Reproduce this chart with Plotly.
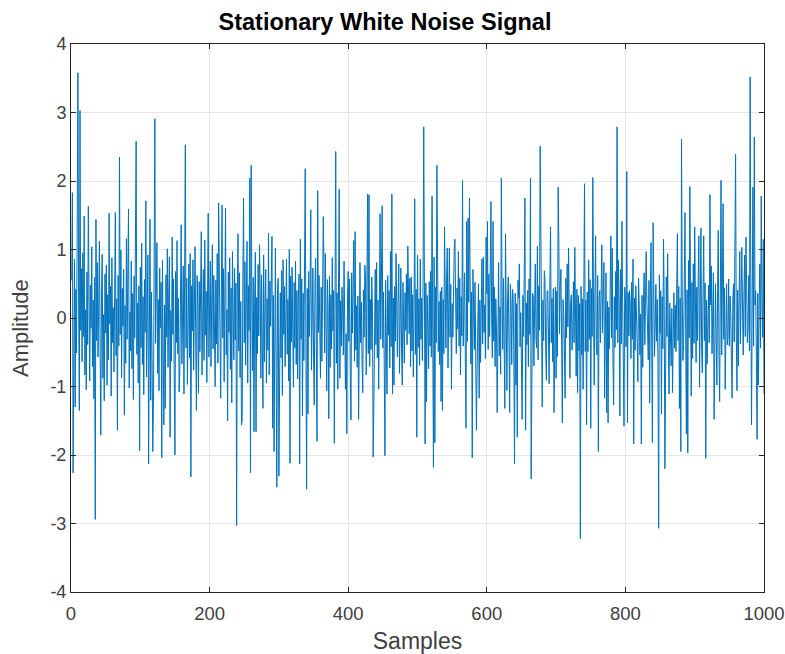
import plotly.graph_objects as go

# Signal amplitudes, samples 1..1000 (read/estimated from the reference)
block01 = [0.55, 1.83, -2.26, 0.21, 0.86, -1.30, 0.42, -0.51, 1.22, 3.58,
           0.31, -1.35, 3.03, -0.18, 0.72, -0.64, 0.95, -0.27, 1.49, -0.83,
           0.12, -1.05, 0.67, -0.39, 1.63, 0.08, -0.92, 0.48, -0.15, 1.04,
           -0.71, 0.26, -1.18, 0.59, -2.94, 1.44, -0.33, 0.81, -0.57, 0.19,
           1.12, -0.46, -1.71, 0.37, 0.93, -0.88, 0.05, -1.21, 0.64, -0.22,
           0.77, -0.98, 0.34, -0.61, 1.53, -0.09, 0.46, -1.14, 0.88, -0.36,
           0.15, -0.79, 1.07, 1.54, -0.55, 0.28, -1.64, 0.62, -0.41, 2.35,
           -0.24, 0.99, -0.87, 0.43, -0.12, 0.71, -1.42, 0.18, -0.66, 1.16,
           -0.31, 0.54, 1.59, -1.02, 0.09, -0.48, 0.83, -0.74, 0.36, -1.19,
           0.61, -0.29, 0.97, 2.58, -0.53, 0.22, -0.95, 0.47, -1.94, 0.74]
block02 = [-0.43, 1.09, -0.68, 0.31, -1.12, 0.56, -0.21, 1.71, -0.86, 0.14,
           0.92, -2.13, 1.36, 1.44, -1.20, 0.38, -0.59, -1.95, -1.22, 0.66,
           2.91, -0.37, 0.45, 1.10, -0.81, 0.27, -1.06, 0.73, -0.14, 0.52,
           -2.04, 0.84, -0.47, -1.56, 0.19, -1.32, 0.63, -0.28, 1.01, -0.72,
           0.35, 0.89, -1.74, 0.11, -0.63, 1.18, -0.24, 0.57, -0.91, -2.00,
           0.68, -0.36, 1.13, -0.52, 0.29, -1.08, -0.78, 0.41, 1.36, -0.67,
           0.24, 0.76, -1.11, 0.13, 2.53, -0.44, 0.58, -0.97, 0.32, 0.79,
           -0.58, 0.94, -2.32, 0.47, -0.19, 0.85, -0.76, 0.21, 1.04, -0.34,
           -1.35, 0.62, 0.17, -1.10, 0.53, -0.49, 0.96, 1.26, -0.83, 0.07,
           0.71, -0.62, 1.14, -0.25, 0.39, -0.94, 0.48, 1.53, -0.57, 0.26]
block03 = [0.83, -0.71, 0.18, 1.07, -0.45, 0.62, -0.13, -1.00, 0.55, -0.38,
           0.94, -0.66, 1.68, 0.23, -0.82, -1.17, 0.41, 1.65, -0.29, 0.72,
           -0.93, 0.36, 1.60, -0.54, 0.12, -1.50, 0.67, -0.21, 0.88, -0.75,
           0.44, -1.24, 0.97, 0.05, -0.61, 0.73, -0.32, 0.51, -3.03, 0.38,
           1.23, -0.48, 0.66, -0.87, 0.24, -1.56, -1.50, 0.57, 1.75, -0.36,
           0.82, -0.69, 0.31, 1.12, -0.95, 0.47, -0.18, 2.04, -2.26, 2.23,
           0.34, -0.77, 0.59, -1.66, 0.21, 0.96, -1.66, 0.30, -0.52, 0.78,
           -0.26, 1.07, 0.39, -0.88, 0.63, -0.41, -1.32, 0.92, -0.64, 0.16,
           0.71, -0.95, 0.28, -0.47, 1.24, -0.83, 0.54, -0.12, 0.87, 1.19,
           -1.61, 0.33, -1.95, 0.48, 1.02, -0.74, -2.47, 0.42, 0.58, -2.31]
block04 = [-0.86, 0.37, -0.58, 0.69, -1.13, 0.85, -0.24, 0.46, -0.71, 0.19,
           0.86, -0.53, 0.27, -0.92, 1.00, -2.12, 0.61, -0.35, 0.74, -0.17,
           -1.01, 0.52, -0.44, 0.83, -0.68, 0.40, -0.89, 0.25, 0.64, -2.13,
           1.15, -0.31, 0.57, -1.43, 0.36, -0.62, 0.91, 2.18, -0.47, -2.50,
           0.43, -1.40, 0.68, -0.27, 0.34, 1.58, -0.76, 0.19, 0.73, -0.58,
           -1.27, 0.49, 0.87, -0.39, -1.80, 1.86, -0.21, 0.62, 0.11, -0.88,
           0.45, -0.63, 0.28, 1.48, 0.79, -0.51, 0.94, -0.33, -1.06, 0.56,
           0.14, -1.47, 0.61, -0.72, 0.34, -0.45, 0.88, -0.19, 0.40, -1.83,
           0.52, 2.43, -0.66, 0.37, -1.04, 0.71, 1.88, -0.88, 0.25, -0.41,
           0.45, 0.12, -0.54, 0.83, -0.37, -1.04, -0.23, -1.69, 0.31, 0.68]
block05 = [-0.34, 0.57, -0.81, -1.49, 0.66, -0.22, 0.39, 1.13, -0.63, 1.26,
           -0.47, 0.18, -0.72, 0.32, -1.48, 0.54, 0.81, -0.36, 0.23, -0.65,
           -1.09, 0.41, -0.28, 0.77, 0.60, -0.83, 0.35, 1.81, -0.52, 1.80,
           -0.71, 0.27, -0.46, 0.60, 0.14, -2.03, -1.30, 0.48, 0.71, -0.39,
           0.81, -0.58, 0.26, -1.04, 0.67, 1.52, -0.31, 0.43, 1.64, -0.44,
           0.38, -0.69, -2.01, 0.55, -0.17, -1.11, 0.62, -0.25, 0.40, -0.73,
           0.97, -0.42, 1.81, -1.11, 0.29, -0.98, 0.46, -0.34, 0.94, 0.17,
           -0.57, 0.33, 0.79, -0.81, 0.21, 0.73, -0.45, -0.98, 0.52, 0.08,
           -0.66, 0.37, -0.18, 0.64, -0.39, 1.05, 0.26, -0.23, 0.58, -0.71,
           0.60, -0.48, 0.34, -0.86, 0.19, 1.74, -0.53, 0.42, -1.74, 0.92]
block06 = [-0.43, 0.28, -0.69, 0.86, -0.31, 0.29, -0.62, 0.47, 2.79, 0.36,
           -1.84, 0.51, -1.22, 0.33, -0.23, -0.74, 0.53, -0.41, 0.68, -0.57,
           1.78, 0.22, -2.18, 0.89, -1.82, 0.45, -0.36, 2.23, 0.18, -0.49,
           0.24, -0.68, 0.39, -1.22, 0.45, -1.35, 0.27, -0.52, 1.33, 0.14,
           -0.44, 0.61, 1.02, -0.73, 0.35, 1.02, -0.28, 0.49, -1.04, 0.21,
           -0.28, 0.63, 0.99, 1.15, -0.37, -0.52, 0.44, -0.16, 0.97, -0.41,
           0.58, -0.83, 0.31, -0.26, 2.01, -0.41, 0.17, 0.66, -0.55, -1.61,
           1.41, -0.34, 1.46, 0.23, 1.75, 0.08, -0.67, 0.38, -2.04, 0.71,
           0.19, -0.46, 0.52, -0.88, -1.64, -0.75, 0.33, 0.50, -1.17, 0.26,
           -0.65, 0.42, 0.86, -0.38, 0.89, -0.21, 0.19, -0.59, 1.18, 0.35]
block07 = [1.41, -0.46, 0.64, -0.27, 0.53, 1.70, -0.02, -0.58, 1.41, -0.34,
           0.45, -0.71, 0.28, -0.19, -1.38, 0.37, 0.81, -0.55, 0.16, -0.82,
           2.04, 0.31, -0.46, 0.58, -0.23, -1.32, 1.23, -0.44, -1.06, 0.27,
           0.60, -0.37, -1.38, 0.49, 0.19, -0.68, 0.42, 0.34, -0.51, -2.13,
           0.36, -0.98, 0.21, -1.74, 0.55, 0.29, 0.79, -0.42, 0.08, -0.63,
           -1.48, 0.33, -0.27, 0.61, 1.75, -1.64, 0.22, -0.39, 0.40, -0.71,
           0.57, -0.24, 2.04, -2.35, -0.49, 0.36, 0.32, -0.70, 0.18, 0.79,
           -0.33, -0.44, 1.05, -0.61, 0.47, -0.18, 2.51, 1.15, -0.52, -1.30,
           0.26, -0.33, 0.69, 0.55, -0.47, -0.91, 0.38, 0.40, -0.27, -0.96,
           0.51, 1.33, -0.36, 0.29, -0.64, 0.43, -1.38, 0.17, 0.45, -0.88]
block08 = [0.39, -0.56, 1.91, 1.05, -0.23, 0.48, 0.71, -0.35, -1.53, 0.27,
           0.06, -0.44, -1.17, 0.58, -0.29, 0.79, -0.13, 1.02, -0.61, -0.88,
           0.24, 0.34, -0.47, -0.20, 0.53, -0.36, 1.03, 0.15, -0.85, 0.42,
           -1.09, 0.33, -0.48, 0.21, -3.22, 0.46, -0.54, 0.28, -1.04, 0.37,
           1.96, -0.49, 0.26, -1.56, 0.38, -0.49, 0.85, -0.31, 0.56, -1.61,
           0.43, -0.27, 2.05, 0.19, -0.98, 0.34, 1.20, -0.41, -0.54, 0.62,
           -1.95, 0.28, 0.40, -0.36, 0.51, 1.07, -0.22, 0.60, 0.81, -1.17,
           0.33, 0.66, -1.38, 0.24, -1.53, 0.16, -0.45, 0.37, 1.20, -0.29,
           1.02, -0.58, -1.27, 0.31, -0.43, 0.68, -0.17, 2.79, -0.36, 0.84,
           0.22, -1.43, 0.71, -0.38, 1.41, 0.27, -0.64, -1.58, 0.45, 0.30]
block09 = [-0.42, 2.14, -1.53, 0.37, -0.26, 0.40, 0.18, -0.59, 0.52, -0.31,
           0.86, -1.84, 0.29, -0.47, 0.47, 0.13, -0.36, -0.93, 0.58, 0.16,
           -0.54, 0.06, -1.84, 0.33, -0.72, 0.21, 0.66, -0.39, 0.45, 0.97,
           0.24, -0.13, -0.61, 0.55, -1.24, 0.38, 1.10, -0.47, -1.82, 1.39,
           0.32, -0.56, -0.13, 0.49, -0.34, 0.27, -0.68, -3.07, 0.63, -0.22,
           0.40, -1.40, 0.31, -0.45, 1.15, 0.18, -2.20, 0.36, 0.60, -0.27,
           0.94, -0.38, -1.11, 0.22, -0.31, -0.70, 0.14, -1.09, -0.28, 0.37,
           -0.44, 0.19, -0.49, 0.58, 1.23, -0.33, 0.46, -1.32, 0.29, -1.95,
           2.61, 0.35, -0.62, -0.39, 0.47, 1.54, -0.26, -1.69, 0.41, -1.97,
           0.84, -0.29, 1.92, 0.31, -1.14, 0.52, -0.59, 0.79, -0.37, 1.33]
block10 = [0.28, -0.65, 0.45, -0.33, 0.61, 1.20, -1.01, 0.24, 1.31, -0.42,
           -0.80, 0.37, 1.20, -0.33, 0.51, -2.05, 0.26, -0.67, -0.23, 0.48,
           -0.36, 1.80, 0.19, 0.76, -0.52, 0.33, 0.66, -1.48, 0.21, 0.50,
           -0.29, -0.98, 0.43, 1.28, -0.47, -1.22, 0.38, 2.01, -0.54, 0.27,
           1.67, -0.31, 0.44, -1.04, 0.18, 0.50, -0.39, -0.28, 0.57, -0.41,
           0.32, 0.08, -0.63, -1.17, 0.26, 0.50, -0.35, 0.86, 2.39, -0.22,
           -1.06, 0.41, -0.70, 0.29, 0.97, -0.38, 0.53, 1.03, 0.16, -0.54,
           0.31, 0.92, -0.27, 1.18, 0.45, -0.36, -0.13, 0.62, -0.48, 3.52,
           0.34, -1.56, 0.27, 1.91, -0.41, 2.64, 0.19, 0.40, -0.58, -1.77,
           0.36, -0.98, 0.22, 0.79, -0.44, 1.78, 0.31, -0.28, 1.15, -1.11]

amplitude = (block01 + block02 + block03 + block04 + block05 +
             block06 + block07 + block08 + block09 + block10)
samples = list(range(1, len(amplitude) + 1))

x_ticks = [0, 200, 400, 600, 800, 1000]
x_tick_labels = ["0", "200", "400", "600", "800", "1000"]
y_ticks = [-4, -3, -2, -1, 0, 1, 2, 3, 4]
y_tick_labels = ["-4", "-3", "-2", "-1", "0", "1", "2", "3", "4"]

title_text = "Stationary White Noise Signal"
x_label = "Samples"
y_label = "Amplitude"

FONT = "Liberation Sans, Arial, sans-serif"
FIG_W, FIG_H = 785, 654

fig = go.Figure()
fig.add_trace(go.Scatter(
    x=samples, y=amplitude, mode="lines",
    line=dict(color="#0072BD", width=1),
    showlegend=False, hoverinfo="x+y",
))

axis_common = dict(
    showline=True, mirror="ticks", linecolor="#262626", linewidth=1,
    ticks="inside", ticklen=5, tickcolor="#262626", tickwidth=1,
    showgrid=True, gridcolor="#e6e6e6", gridwidth=1, zeroline=False,
    automargin=False, ticklabeloverflow="allow",
)

fig.update_layout(
    width=FIG_W, height=FIG_H,
    margin=dict(l=71, r=21, t=44, b=62, autoexpand=False),
    paper_bgcolor="white", plot_bgcolor="white",
    font=dict(family=FONT, color="#404040"),
    title=dict(text="<b>" + title_text + "</b>", x=385 / FIG_W, xref="container",
               xanchor="center", y=1 - 22 / FIG_H, yref="container", yanchor="middle",
               automargin=False,
               font=dict(size=23.5, color="#000000", family=FONT)),
    xaxis=dict(range=[0, 1000], tickvals=x_ticks, ticktext=x_tick_labels,
               tickfont=dict(size=18.5, color="#404040"), ticklabelstandoff=5,
               title=dict(text=x_label, font=dict(size=23, color="#404040"), standoff=10),
               **axis_common),
    yaxis=dict(range=[-4, 4], tickvals=y_ticks, ticktext=y_tick_labels,
               tickfont=dict(size=18, color="#404040"), ticklabelstandoff=0,
               **axis_common),
    annotations=[dict(
        text=y_label, textangle=-90, showarrow=False,
        xref="paper", x=0, xanchor="center", xshift=-51,
        yref="paper", y=0.5, yanchor="middle", yshift=-10,
        font=dict(size=22, color="#404040", family=FONT),
    )],
)

# Remove the browser's default 8 px page margin so the figure fills the window.
fig.write_html(
    "out.html",
    config={"displayModeBar": False},
    post_script="document.body.style.margin='0';document.body.style.overflow='hidden';",
)
